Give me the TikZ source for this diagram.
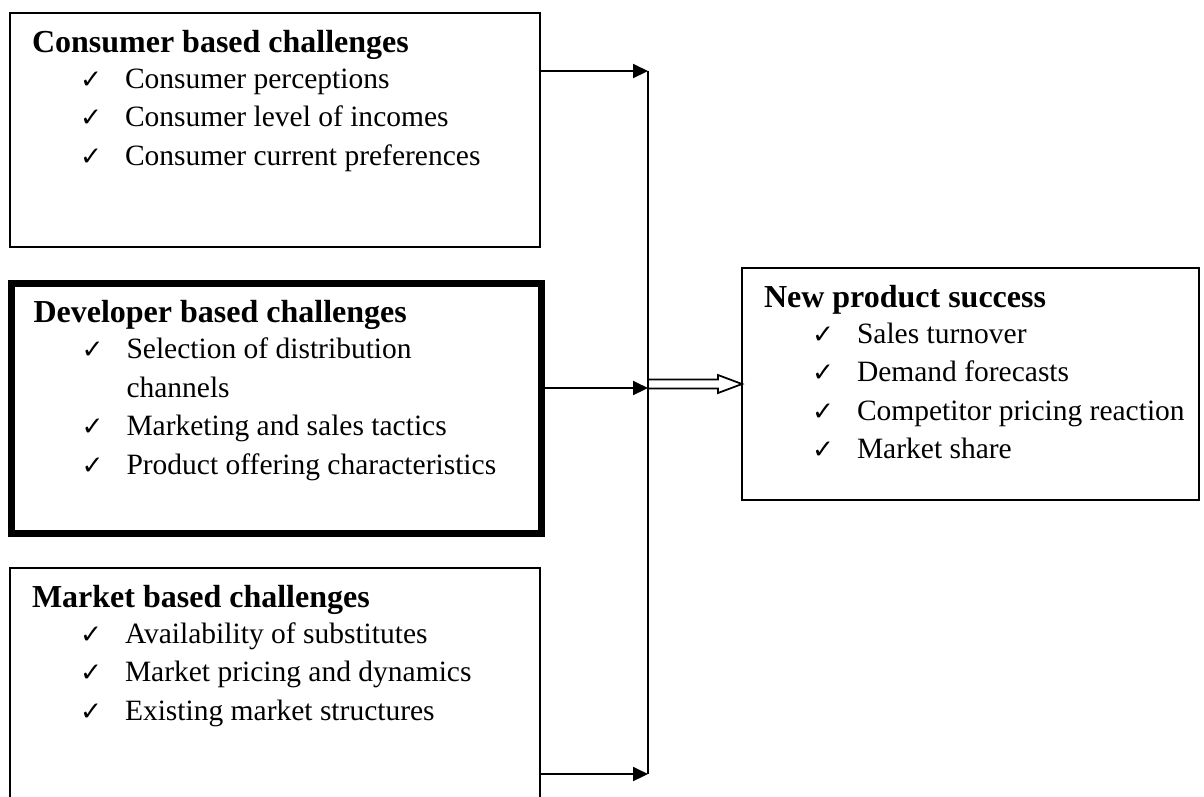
\documentclass[tikz,border=0pt]{standalone}
\usepackage{fontspec}
\setmainfont{Liberation Serif}
\newfontfamily\chkfont{DejaVu Sans}
\usetikzlibrary{arrows.meta,calc}
\newcommand{\chk}{\makebox[18pt][l]{\chkfont\fontsize{10.5}{10.5}\selectfont ✓}}
\tikzstyle{box} = [rectangle, draw, line width=0.8pt, inner sep=0pt, outer sep=0pt, anchor=north west]
\tikzstyle{heavybox} = [box, line width=2.8pt]
\tikzstyle{head} = [anchor=base west, inner sep=0pt, font=\bfseries\fontsize{12.8}{15}\selectfont]
\tikzstyle{item} = [anchor=base west, inner sep=0pt, font=\fontsize{11.8}{14}\selectfont]
\tikzstyle{hollow} = [draw, line width=0.7pt, fill=white, line join=miter]

\begin{document}
\begin{tikzpicture}[x=0.4pt,y=-0.4pt,>={Triangle[length=6pt,width=5.6pt]},line width=0.8pt]
  \useasboundingbox (0,0) rectangle (1204,796);
  \clip (0,0) rectangle (1204,796);

  % the four boxes
  \node[box, minimum width=212pt, minimum height=93.6pt] (cons) at (10,13) {};
  \node[heavybox, minimum width=212pt, minimum height=100pt] (dev) at (11.5,283.5) {};
  \node[box, minimum width=212pt, minimum height=100.8pt] (mkt) at (10,568) {};
  \node[box, minimum width=182.8pt, minimum height=92.8pt] (succ) at (742,268) {};

  % box texts
  \node[head] (cons-t) at ([shift={(21,39)}]cons.north west) {Consumer based challenges};
  \foreach \txt [count=\i] in {Consumer perceptions, Consumer level of incomes, Consumer current preferences}
    \node[item] (cons-\i) at ([shift={(48,36+38.5*(\i-1))}]cons-t.base west) {\chk\txt};

  \node[head] (dev-t) at ([shift={(21,39)}]dev.north west) {Developer based challenges};
  \foreach \mk/\txt [count=\i] in {\chk/Selection of distribution, \hspace{18pt}/channels, \chk/Marketing and sales tactics, \chk/Product offering characteristics}
    \node[item] (dev-\i) at ([shift={(48,36+38.5*(\i-1))}]dev-t.base west) {\mk\txt};

  \node[head] (mkt-t) at ([shift={(21,39)}]mkt.north west) {Market based challenges};
  \foreach \txt [count=\i] in {Availability of substitutes, Market pricing and dynamics, Existing market structures}
    \node[item] (mkt-\i) at ([shift={(48,36+38.5*(\i-1))}]mkt-t.base west) {\chk\txt};

  \node[head] (succ-t) at ([shift={(21,39)}]succ.north west) {New product success};
  \foreach \txt [count=\i] in {Sales turnover, Demand forecasts, Competitor pricing reaction, Market share}
    \node[item] (succ-\i) at ([shift={(48,36+38.5*(\i-1))}]succ-t.base west) {\chk\txt};

  % collecting line
  \coordinate (jt) at (648,71);
  \coordinate (jm) at (648,388);
  \coordinate (jo) at (648,384);
  \coordinate (jb) at (648,774);
  \draw (jt) -- (jb);

  \path[->] (cons.east |- jt) edge (jt);
  \path[->] (dev.east |- jm) edge (jm);
  \path[->] (mkt.east |- jb) edge (jb);

  % open arrow to the outcome
  \draw[hollow] ($(jo)+(0,-4.5)$) -- ($(succ.west)+(-24,-4.5)$) -- ($(succ.west)+(-24,-9)$)
    -- (succ.west) -- ($(succ.west)+(-24,9)$) -- ($(succ.west)+(-24,4.5)$) -- ($(jo)+(0,4.5)$) -- cycle;
\end{tikzpicture}
\end{document}
